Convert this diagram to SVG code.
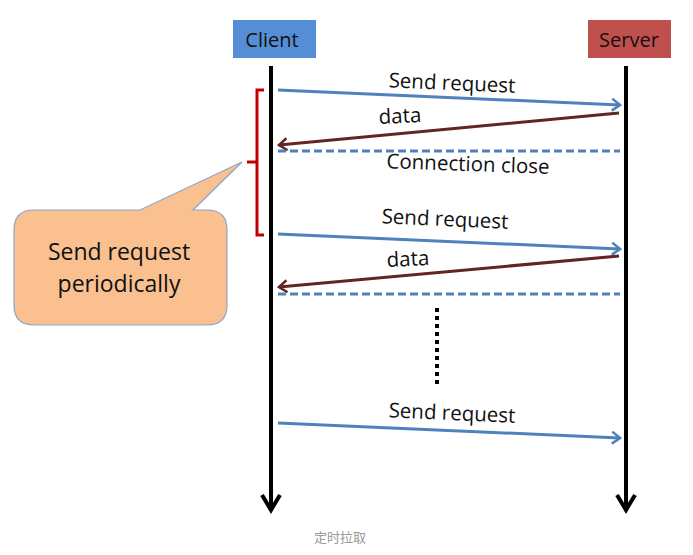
<svg xmlns="http://www.w3.org/2000/svg" width="693" height="555" viewBox="0 0 693 555">
<defs>
<style>
.lbl{font-family:"Open Sans","Liberation Sans",sans-serif;font-size:20.5px;fill:#111;}
.hdr{font-family:"Open Sans","Liberation Sans",sans-serif;font-size:20px;fill:#111;text-anchor:middle;}
.life{stroke:#000;stroke-width:4;fill:none;}
.req{stroke:#4F81BD;stroke-width:3;fill:none;}
.dat{stroke:#632523;stroke-width:3;fill:none;}
.dash{stroke:#4F81BD;stroke-width:3;stroke-dasharray:8,4;fill:none;}
</style>
<marker id="ahLife" markerWidth="24" markerHeight="24" viewBox="0 0 24 24" refX="20" refY="12" orient="auto" markerUnits="userSpaceOnUse">
<path d="M4,3 L19,12 L4,21" fill="none" stroke="#000" stroke-width="4"/>
</marker>
<marker id="ahReq" markerWidth="14" markerHeight="14" viewBox="0 0 14 14" refX="12" refY="7" orient="auto" markerUnits="userSpaceOnUse">
<path d="M4,1 L12,7 L4,13" fill="none" stroke="#4F81BD" stroke-width="2.5"/>
</marker>
<marker id="ahDat" markerWidth="14" markerHeight="14" viewBox="0 0 14 14" refX="12" refY="7" orient="auto" markerUnits="userSpaceOnUse">
<path d="M4,1 L12,7 L4,13" fill="none" stroke="#632523" stroke-width="2.5"/>
</marker>
</defs>
<rect width="693" height="555" fill="#fff"/>

<g id="client">
<rect x="233" y="20" width="83" height="38" fill="#558ED5"/>
<text class="hdr" x="272" y="47">Client</text>
</g>
<g id="server">
<rect x="588" y="20" width="83" height="38" fill="#C0504D"/>
<text class="hdr" x="629" y="47">Server</text>
</g>

<g id="callout">
<path d="M34,210 L140,210 L242,162 L193,210 L207,210 Q227,210 227,230 L227,305 Q227,325 207,325 L34,325 Q14,325 14,305 L14,230 Q14,210 34,210 Z" fill="#FAC090" stroke="#8EA6C9" stroke-width="1.2"/>
<text x="119" y="260" font-family="'Open Sans','Liberation Sans',sans-serif" font-size="23" fill="#111" text-anchor="middle">Send request</text>
<text x="119" y="292" font-family="'Open Sans','Liberation Sans',sans-serif" font-size="23" fill="#111" text-anchor="middle">periodically</text>
</g>

<g id="bracket">
<path d="M264,90 L257,90 L257,235 L264,235 M257,162 L247,162" fill="none" stroke="#C00000" stroke-width="3"/>
</g>

<g id="connectors">
<line class="life" x1="271" y1="66" x2="271" y2="511" marker-end="url(#ahLife)"/>
<line class="life" x1="626" y1="66" x2="626" y2="511" marker-end="url(#ahLife)"/>

<line class="req" x1="278" y1="90" x2="620" y2="105" marker-end="url(#ahReq)"/>
<line class="dat" x1="619" y1="113" x2="279" y2="145" marker-end="url(#ahDat)"/>
<line class="dash" x1="278" y1="151" x2="620" y2="151"/>

<line class="req" x1="278" y1="234" x2="620" y2="249" marker-end="url(#ahReq)"/>
<line class="dat" x1="619" y1="256" x2="279" y2="287" marker-end="url(#ahDat)"/>
<line class="dash" x1="278" y1="294" x2="620" y2="294"/>

<line x1="437" y1="308" x2="437" y2="384" stroke="#000" stroke-width="4" stroke-dasharray="4,4"/>

<line class="req" x1="278" y1="423" x2="620" y2="438" marker-end="url(#ahReq)"/>
</g>

<g id="labels">
<text class="lbl" x="452" y="90" text-anchor="middle" transform="rotate(2.5 452 84)">Send request</text>
<text class="lbl" x="400" y="123" text-anchor="middle" transform="rotate(-3 400 117)">data</text>
<text class="lbl" x="468" y="171" text-anchor="middle" transform="rotate(2 468 165)">Connection close</text>
<text class="lbl" x="445" y="226" text-anchor="middle" transform="rotate(2.5 445 220)">Send request</text>
<text class="lbl" x="408" y="266" text-anchor="middle" transform="rotate(-3 408 260)">data</text>
<text class="lbl" x="452" y="420" text-anchor="middle" transform="rotate(2.5 452 414)">Send request</text>
</g>

<text x="340" y="542" font-family="'Noto Sans CJK SC',sans-serif" font-size="13" fill="#999" text-anchor="middle">定时拉取</text>
</svg>
